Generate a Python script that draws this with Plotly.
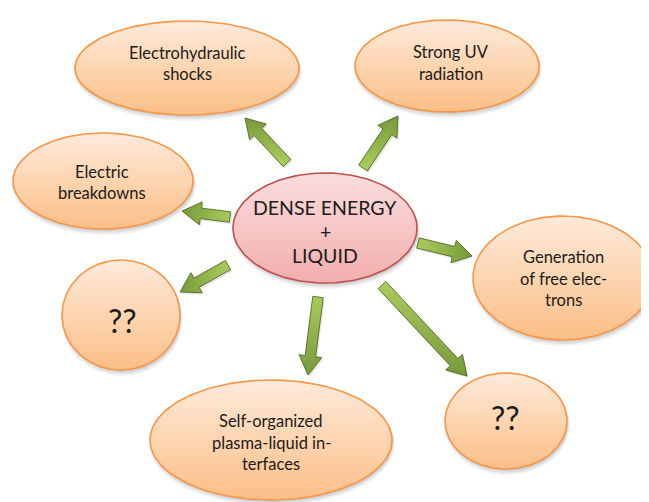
import numpy as np
import plotly.graph_objects as go

# ---- content ----
node_labels = [
    "Electrohydraulic<br>shocks",
    "Strong UV<br>radiation",
    "Electric<br>breakdowns",
    "Generation<br>of free elec-<br>trons",
    "??",
    "Self-organized<br>plasma-liquid in-<br>terfaces",
    "??",
]
center_label = "DENSE ENERGY<br>+<br>LIQUID"

# ---- layout of the diagram (pixel space, y downwards) ----
node_cx = [187, 447, 103, 563, 121, 271, 506]
node_cy = [68, 66, 181, 278, 315, 440, 421]
node_rx = [112, 92, 90, 90, 59, 121, 61]
node_ry = [47, 46, 48, 62, 55, 60, 48]
label_x = [187, 451, 102, 563, 122, 271, 505]
label_y = [63.5, 63, 182.5, 278.5, 320, 442.5, 417]
label_size = [16.5, 16.5, 16.5, 16.5, 32, 16.5, 32]

center_xy = (325, 228)
center_r = (92, 55)
center_label_xy = (325, 231.5)

arrow_tail_x = [287, 363, 230, 228, 318, 382, 418]
arrow_tail_y = [163, 168, 217, 265, 297, 285, 243]
arrow_tip_x = [245, 398, 182, 180, 308, 467, 472]
arrow_tip_y = [118, 116, 211, 292, 375, 376, 256]

SHAFT_W, HEAD_W, HEAD_L = 10.5, 23, 19
W, H = 649, 502
PAGE_MARGIN = 8  # default body margin of the html page
FONT = "Lato, Carlito, Calibri, sans-serif"

fig = go.Figure()


def ellipse_pts(cx, cy, rx, ry, n=160):
    t = np.linspace(0, 2 * np.pi, n)
    return cx + rx * np.cos(t), cy + ry * np.sin(t)


def add_ellipse(cx, cy, rx, ry, top, mid, bottom, line):
    # soft shadow
    for dy, grow, a in [(4, 2, 0.05), (3, 1, 0.07), (2, 0, 0.08)]:
        sx, sy = ellipse_pts(cx + 1, cy + dy, rx + grow, ry + grow)
        fig.add_trace(go.Scatter(x=sx, y=sy, mode="lines", fill="toself",
                                 fillcolor=f"rgba(0,0,0,{a})", line=dict(width=0),
                                 hoverinfo="skip", showlegend=False))
    x, y = ellipse_pts(cx, cy, rx, ry)
    fig.add_trace(go.Scatter(
        x=x, y=y, mode="lines", fill="toself",
        fillgradient=dict(type="vertical",
                          colorscale=[[0, top], [0.5, mid], [1, bottom]],
                          start=cy - ry, stop=cy + ry),
        line=dict(color=line, width=1.6),
        hoverinfo="skip", showlegend=False))


def add_arrow(x0, y0, x1, y1):
    dx, dy = x1 - x0, y1 - y0
    L = np.hypot(dx, dy)
    ux, uy = dx / L, dy / L
    px, py = -uy, ux
    bx, by = x1 - ux * HEAD_L, y1 - uy * HEAD_L
    hs, hh = SHAFT_W / 2, HEAD_W / 2
    pts = [
        (x0 + px * hs, y0 + py * hs),
        (bx + px * hs, by + py * hs),
        (bx + px * hh, by + py * hh),
        (x1, y1),
        (bx - px * hh, by - py * hh),
        (bx - px * hs, by - py * hs),
        (x0 - px * hs, y0 - py * hs),
        (x0 + px * hs, y0 + py * hs),
    ]
    xs = [p[0] for p in pts]
    ys = [p[1] for p in pts]
    # shadow
    fig.add_trace(go.Scatter(x=[v + 1.5 for v in xs], y=[v + 2 for v in ys], mode="lines",
                             fill="toself", fillcolor="rgba(0,0,0,0.10)", line=dict(width=0),
                             hoverinfo="skip", showlegend=False))
    if abs(dx) > abs(dy):
        gtype, s, e = "horizontal", x0, x1
    else:
        gtype, s, e = "vertical", y0, y1
    cs = [[0, "#A9CB5C"], [1, "#78993A"]]
    if s > e:
        s, e = e, s
        cs = [[0, "#78993A"], [1, "#A9CB5C"]]
    fig.add_trace(go.Scatter(
        x=xs, y=ys, mode="lines", fill="toself",
        fillgradient=dict(type=gtype, colorscale=cs, start=s, stop=e),
        line=dict(color="#4E6B24", width=0.9),
        hoverinfo="skip", showlegend=False))


def add_label(text, x, y, size, gap):
    lines = text.split("<br>")
    n = len(lines)
    for i, ln in enumerate(lines):
        fig.add_annotation(x=x, y=y + (i - (n - 1) / 2) * gap, text=ln,
                           showarrow=False, xref="x", yref="y",
                           xanchor="center", yanchor="middle",
                           font=dict(family=FONT, size=size, color="#1b1b1b"))


# outer nodes
for i in range(len(node_labels)):
    add_ellipse(node_cx[i], node_cy[i], node_rx[i], node_ry[i],
                "#FEEADB", "#FDD5B0", "#FBBE87", "#F79646")

# arrows
for i in range(len(arrow_tail_x)):
    add_arrow(arrow_tail_x[i], arrow_tail_y[i], arrow_tip_x[i], arrow_tip_y[i])

# center node
add_ellipse(center_xy[0], center_xy[1], center_r[0], center_r[1],
            "#FADCDC", "#F7C6C6", "#F2AEAE", "#C0504D")

for i in range(len(node_labels)):
    add_label(node_labels[i], label_x[i], label_y[i], label_size[i], 21.5)
add_label(center_label, center_label_xy[0], center_label_xy[1], 19.5, 24)

# the page has an 8px body margin: size the figure to fit the window and
# offset the ranges so that data units equal window pixels
fig.update_layout(
    width=W - PAGE_MARGIN, height=H - PAGE_MARGIN,
    margin=dict(l=0, r=0, t=0, b=0),
    paper_bgcolor="white", plot_bgcolor="white",
    xaxis=dict(range=[PAGE_MARGIN, W], visible=False, fixedrange=True),
    yaxis=dict(range=[H, PAGE_MARGIN], visible=False, fixedrange=True),
    showlegend=False,
)

fig.write_html("out.html")
